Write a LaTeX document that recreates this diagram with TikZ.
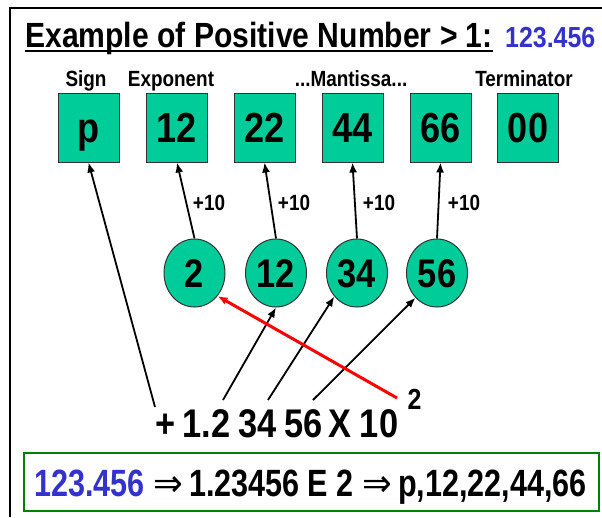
\documentclass[tikz,border=0pt]{standalone}
\usepackage{fontspec}
\setmainfont{Liberation Sans}[FakeStretch=0.86]
\newfontfamily\dv{DejaVu Sans}
\usetikzlibrary{arrows.meta,shapes.geometric}
\definecolor{tealgreen}{RGB}{0,204,153}
\definecolor{numblue}{RGB}{51,51,204}
\definecolor{boxgreen}{RGB}{0,128,0}
\newcommand\fsz[1]{\fontsize{#1}{#1}\selectfont\bfseries}
\begin{document}
\begin{tikzpicture}[x=1pt,y=-1pt,
 cell/.style={draw=black!80, fill=tealgreen, line width=1pt, minimum width=61pt, minimum height=69pt, inner sep=0pt, font=\fsz{42}, text height=30pt, text depth=0pt},
 oval/.style={ellipse, draw=black!80, fill=tealgreen, line width=1pt, minimum width=61pt, minimum height=68pt, inner sep=0pt, font=\fsz{40}, text height=28.6pt, text depth=0pt},
 lbl/.style={font=\fsz{22}, inner sep=0pt, anchor=base},
 inc/.style={font=\fsz{22}, inner sep=0pt},
 big/.style={font=\fsz{40}, inner sep=0pt, anchor=base},
 arr/.style={line width=1.8pt, -{Latex[length=10pt,width=8pt]}},
 redarr/.style={arr, draw=red, line width=3pt},
]
\useasboundingbox (0,0) rectangle (602,517);
\fill[white] (0,0) rectangle (602,517);
\draw[line width=1.5pt] (10,517) -- (10,8) -- (602,8);

% title
\node[anchor=base west, inner sep=0pt, font=\fsz{35}] (title) at (25,47) {Example of Positive Number > 1:};
\draw[line width=2.5pt] ([yshift=-4pt]title.base west) -- ([yshift=-4pt]title.base east);
\node[anchor=base west, inner sep=0pt, font=\fsz{29}, text=numblue] (val) at (505,47) {123.456};

% labels
\node[lbl] (lsign) at (86,86) {Sign};
\node[lbl] (lexp) at (171,86) {Exponent};
\node[lbl] (lman) at (351,86) {...Mantissa...};
\node[lbl] (lterm) at (524,86) {Terminator};

% cells
\node[cell] (bp) at (88.5,127.5) {p};
\node[cell] (b12) at (177,127.5) {12};
\node[cell] (b22) at (264.5,127.5) {22};
\node[cell] (b44) at (352.5,127.5) {44};
\node[cell] (b66) at (440.5,127.5) {66};
\node[cell] (b00) at (528,127.5) {00};

% ovals
\node[oval] (e2) at (194.5,273) {2};
\node[oval] (e12) at (276,273) {12};
\node[oval] (e34) at (357,273) {34};
\node[oval] (e56) at (437,273) {56};

% +10 labels
\node[inc] (i1) at (209,203) {+10};
\node[inc] (i2) at (294,203) {+10};
\node[inc] (i3) at (379,203) {+10};
\node[inc] (i4) at (464,203) {+10};

% bottom expression
\node[big] (tplus) at (166,437) {+};
\node[big] (t12) at (206.5,437) {1.2};
\node[big] (t34) at (257.5,437) {34};
\node[big] (t56) at (303.5,437) {56};
\node[big] (tx) at (340,437) {X};
\node[big] (t10) at (379,437) {10};
\node[font=\fsz{29}, inner sep=0pt, anchor=base] (texp) at (414.5,409) {2};

\coordinate (s0) at (155,407);
\coordinate (s1) at (223,400);
\coordinate (s2) at (268,400);
\coordinate (s3) at (313,400);
\coordinate (sr) at (397,398);

% connectors
\draw[arr] (s0) -- (bp.south);
\draw[arr] (e2.north) -- (b12.south);
\draw[arr] (e12.north) -- (b22.south);
\draw[arr] (e34.north) -- (b44.south);
\draw[arr] (e56.north) -- (b66.south);
\draw[arr] (s1) -- (e12.south);
\draw[arr] (s2) -- (e34.226);
\draw[arr] (s3) -- (e56.229);
\draw[redarr] (sr) -- (e2.315);

% result box
\node[draw=boxgreen, line width=2pt, minimum width=575pt, minimum height=58pt, inner sep=0pt] (res) at (311.5,482) {};
\node[anchor=base, font=\fsz{38}, inner sep=0pt] (restext) at (310.5,496) {\scalebox{0.935}[1]{\textcolor{numblue}{123.456} {\dv\mdseries ⇒}\,1.23456 E 2 {\dv\mdseries ⇒}\,p,12,22,44,66}};
\end{tikzpicture}
\end{document}
